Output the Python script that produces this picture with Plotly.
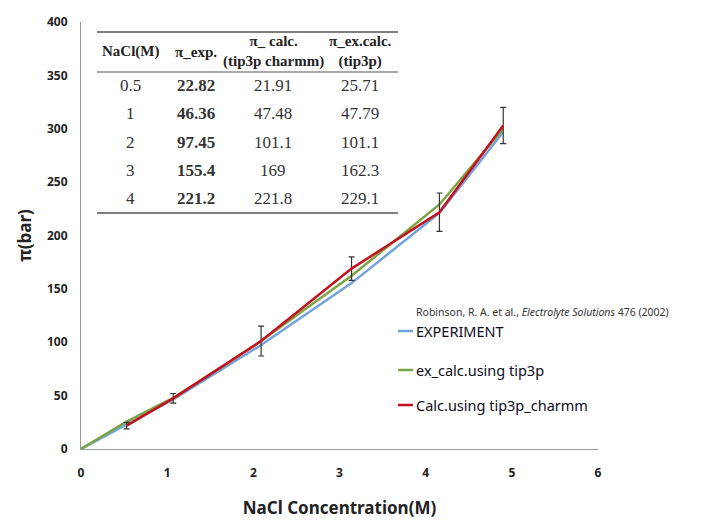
import plotly.graph_objects as go

# ---- data ----
conc = [0, 0.53, 1.07, 2.09, 3.14, 4.16, 4.9]
experiment = [0, 22.82, 46.36, 97.45, 155.4, 221.2, 297]
ex_calc_tip3p = [0, 25.71, 47.79, 101.1, 162.3, 229.1, 300]
calc_conc = [0.53, 1.07, 2.09, 3.14, 4.16, 4.9]
calc_tip3p_charmm = [21.91, 47.48, 101.1, 169, 221.8, 303]
calc_err = [3, 4.5, 14, 11, 18, 17]

series_names = ["EXPERIMENT", "ex_calc.using tip3p", "Calc.using tip3p_charmm"]
colors = ["#6FA3DA", "#7CA343", "#C3121E"]

table_header = ["NaCl(M)", "π_exp.", "π_ calc.<br>(tip3p charmm)", "π_ex.calc.<br>(tip3p)"]
table_conc = ["0.5", "1", "2", "3", "4"]
table_exp = ["22.82", "46.36", "97.45", "155.4", "221.2"]
table_calc = ["21.91", "47.48", "101.1", "169", "221.8"]
table_excalc = ["25.71", "47.79", "101.1", "162.3", "229.1"]

OFF = 8  # page body margin
W, H = 695, 520
# plot area in screen pixels
L, R, T, B = 81, 598, 22, 449

def px(x):
    return (x - L) / (R - L)

def py(y):
    return (B - y) / (B - T)

fig = go.Figure()
fig.add_trace(go.Scatter(x=conc, y=experiment, mode="lines", name=series_names[0],
                         line=dict(color=colors[0], width=2.5), showlegend=False))
fig.add_trace(go.Scatter(x=conc, y=ex_calc_tip3p, mode="lines", name=series_names[1],
                         line=dict(color=colors[1], width=2.5), showlegend=False))
fig.add_trace(go.Scatter(x=calc_conc, y=calc_tip3p_charmm, mode="lines", name=series_names[2],
                         line=dict(color=colors[2], width=2.5), showlegend=False,
                         error_y=dict(type="data", array=calc_err, visible=True,
                                      color="#333333", thickness=1.2, width=3)))

shapes = []
annotations = []

# table rules
for yy, wdt in [(32, 1.6), (72, 1.2), (213, 1.6)]:
    shapes.append(dict(type="line", xref="paper", yref="paper",
                       x0=px(97), x1=px(398), y0=py(yy), y1=py(yy),
                       line=dict(color="#555555", width=wdt)))

col_x = [130, 196, 273, 360]
serif = "Liberation Serif"
for cx, txt in zip(col_x, table_header):
    annotations.append(dict(xref="paper", yref="paper", x=px(cx), y=py(52),
                            text="<b>" + txt + "</b>", showarrow=False,
                            font=dict(family=serif, size=15, color="#222222"),
                            xanchor="center", yanchor="middle"))
row_y = [85, 113, 142, 170, 198]
for i, ry in enumerate(row_y):
    for j, col in enumerate([table_conc, table_exp, table_calc, table_excalc]):
        txt = col[i]
        if j == 1:
            txt = "<b>" + txt + "</b>"
        annotations.append(dict(xref="paper", yref="paper", x=px(col_x[j]), y=py(ry),
                                text=txt, showarrow=False,
                                font=dict(family=serif, size=17, color="#333333"),
                                xanchor="center", yanchor="middle"))

# legend (custom)
leg_y = [331, 370, 405]
for name, c, ly in zip(series_names, colors, leg_y):
    shapes.append(dict(type="line", xref="paper", yref="paper",
                       x0=px(398), x1=px(413), y0=py(ly), y1=py(ly),
                       line=dict(color=c, width=2.5)))
    annotations.append(dict(xref="paper", yref="paper", x=px(414), y=py(ly),
                            text=name, showarrow=False,
                            font=dict(family="Noto Sans", size=14.5, color="#0d0d1a"),
                            xanchor="left", yanchor="middle"))
annotations.append(dict(xref="paper", yref="paper", x=px(414), y=py(312),
                        text="Robinson, R. A. et al., <i>Electrolyte Solutions</i> 476 (2002)",
                        showarrow=False,
                        font=dict(family="Noto Sans", size=10.5, color="#333333"),
                        xanchor="left", yanchor="middle"))

fig.update_layout(
    width=W, height=H,
    margin=dict(l=L - OFF, r=W - (R - OFF), t=T - OFF, b=H - (B - OFF)),
    paper_bgcolor="white", plot_bgcolor="white",
    shapes=shapes, annotations=annotations,
    font=dict(family="Noto Sans", color="#222222"),
    xaxis=dict(range=[0, 6], dtick=1, showgrid=False, zeroline=False,
               showline=True, linecolor="#999999", linewidth=1.2,
               ticks="", ticklabelstandoff=12, automargin=False,
               tickfont=dict(size=12, weight="bold", color="#222222"),
               title=dict(text="<b>NaCl Concentration(M)</b>", standoff=22,
                          font=dict(size=17, color="#222222"))),
    yaxis=dict(range=[0, 400], dtick=50, showgrid=False, zeroline=False,
               showline=True, linecolor="#999999", linewidth=1.2,
               ticks="", ticklabelstandoff=10, automargin=False,
               tickfont=dict(size=12, weight="bold", color="#222222"),
               title=dict(text="<b>π(bar)</b>", standoff=10,
                          font=dict(size=17, color="#222222"))),
)

fig.write_html("out.html")
